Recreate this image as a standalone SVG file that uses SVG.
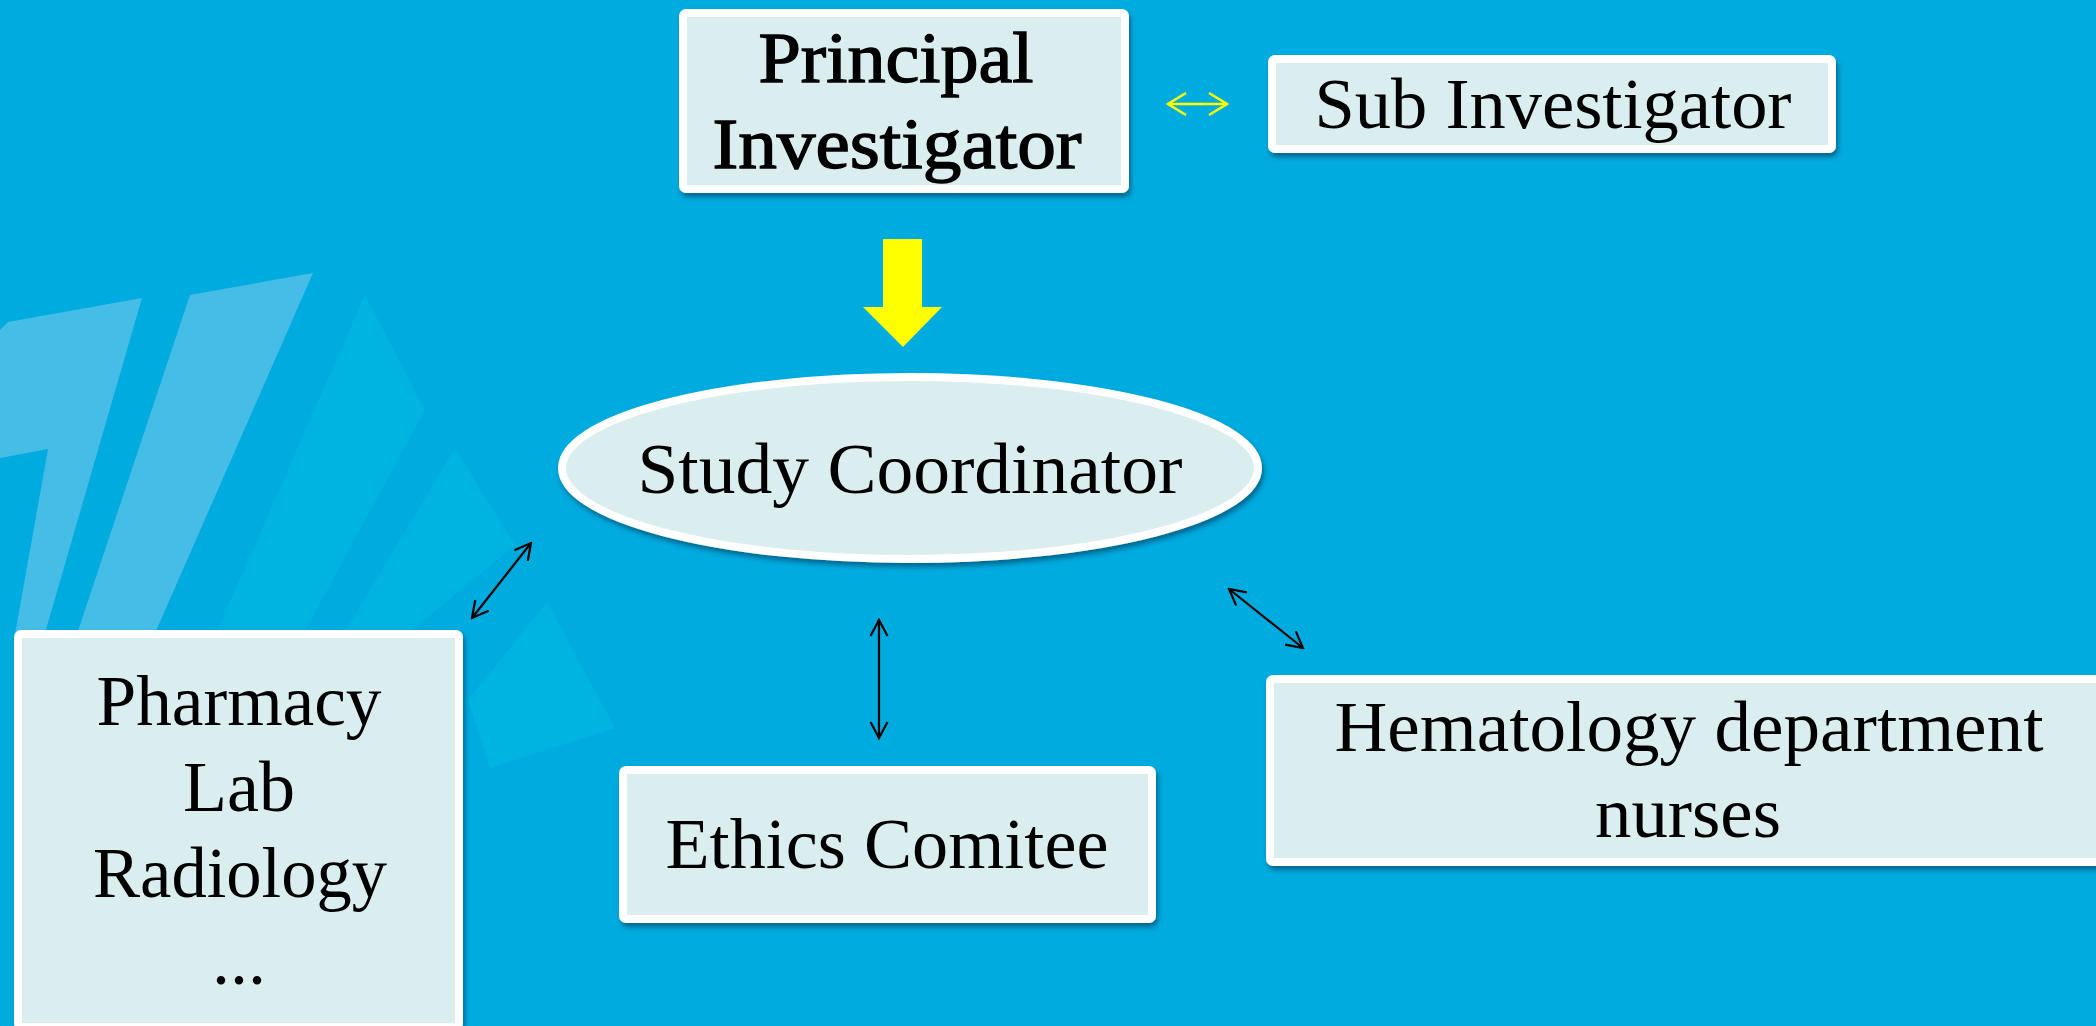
<svg xmlns="http://www.w3.org/2000/svg" width="2096" height="1026" viewBox="0 0 2096 1026">
  <defs>
    <style>
      .box { fill: #DAEDEF; stroke: #FFFFFF; stroke-width: 8; filter: url(#shadow); }
      .lbl { font-family: "Liberation Serif", "Times New Roman", serif; font-size: 72px; fill: #000000; text-anchor: middle; }
      .semi { stroke: #000000; stroke-width: 1.4; }
      .link { fill: none; stroke: #000000; stroke-width: 2.2; marker-start: url(#headK); marker-end: url(#headK); }
      .peer { fill: none; stroke: #FFFF00; stroke-width: 2.5; marker-start: url(#headY); marker-end: url(#headY); }
      .stripe { fill: #45BDE6; }
      .tri { fill: #00B4E2; }
    </style>
    <filter id="shadow" x="-5%" y="-10%" width="112%" height="125%">
      <feDropShadow dx="2" dy="4" stdDeviation="2.5" flood-color="#00324F" flood-opacity="0.55"/>
    </filter>
    <marker id="headK" viewBox="0 0 20 20" refX="18" refY="10" markerWidth="20" markerHeight="20" markerUnits="userSpaceOnUse" orient="auto-start-reverse">
      <path d="M2,1.5 L18,10 L2,18.5" fill="none" stroke="#000000" stroke-width="2.2"/>
    </marker>
    <marker id="headY" viewBox="0 0 22 24" refX="20" refY="12" markerWidth="22" markerHeight="24" markerUnits="userSpaceOnUse" orient="auto-start-reverse">
      <path d="M2,1 L20,12 L2,23" fill="none" stroke="#FFFF00" stroke-width="2.5"/>
    </marker>
  </defs>

  <!-- backdrop -->
  <rect x="0" y="0" width="2096" height="1026" fill="#00ABDF"/>
  <g id="backdrop-shapes">
    <polygon class="stripe" points="0,330 8,322 142,298 43,640 0,640"/>
    <polygon fill="#00ABDF" points="0,458 48,449 14,640 0,640"/>
    <polygon class="stripe" points="190,295 313,273 152,640 75,640"/>
    <polygon class="tri" points="365,295 425,410 300,640 213,640"/>
    <polygon class="tri" points="455,448 515,545 400,640 340,640"/>
    <polygon class="tri" points="547,602 615,728 490,768 468,700"/>
  </g>

  <!-- connectors -->
  <g id="connectors">
    <polygon id="pi-to-sc" points="883,239 922,239 922,307 942,307 903,347 863,307 883,307" fill="#FFFF00"/>
    <path class="peer" d="M1168,104 L1227,104"/>
    <path class="link" d="M879,620 L879,738"/>
    <path class="link" d="M1229,589 L1303,648"/>
    <path class="link" d="M531,543 L472,618"/>
  </g>

  <g id="principal-investigator">
    <rect class="box" x="683" y="13" width="442" height="176" rx="3"/>
    <text class="lbl semi" x="896" y="82" textLength="275" lengthAdjust="spacingAndGlyphs">Principal</text>
    <text class="lbl semi" x="897" y="168" textLength="369" lengthAdjust="spacingAndGlyphs">Investigator</text>
  </g>

  <g id="sub-investigator">
    <rect class="box" x="1272" y="59" width="560" height="90" rx="3"/>
    <text class="lbl" x="1553" y="128" textLength="477" lengthAdjust="spacingAndGlyphs">Sub Investigator</text>
  </g>

  <g id="study-coordinator">
    <ellipse class="box" cx="910" cy="468" rx="348" ry="91"/>
    <text class="lbl" x="910" y="493" textLength="545" lengthAdjust="spacingAndGlyphs">Study Coordinator</text>
  </g>

  <g id="services">
    <rect class="box" x="18" y="634" width="441" height="393" rx="3"/>
    <text class="lbl" x="239" y="725" textLength="285" lengthAdjust="spacingAndGlyphs">Pharmacy</text>
    <text class="lbl" x="239" y="811">Lab</text>
    <text class="lbl" x="240" y="897" textLength="294" lengthAdjust="spacingAndGlyphs">Radiology</text>
    <text class="lbl" x="239" y="984">...</text>
  </g>

  <g id="ethics-comitee">
    <rect class="box" x="623" y="770" width="529" height="149" rx="3"/>
    <text class="lbl" x="887" y="868" textLength="443" lengthAdjust="spacingAndGlyphs">Ethics Comitee</text>
  </g>

  <g id="hematology-nurses">
    <rect class="box" x="1270" y="679" width="850" height="183" rx="3"/>
    <text class="lbl" x="1689" y="751" textLength="709" lengthAdjust="spacingAndGlyphs">Hematology department</text>
    <text class="lbl" x="1688" y="837" textLength="186" lengthAdjust="spacingAndGlyphs">nurses</text>
  </g>
</svg>
